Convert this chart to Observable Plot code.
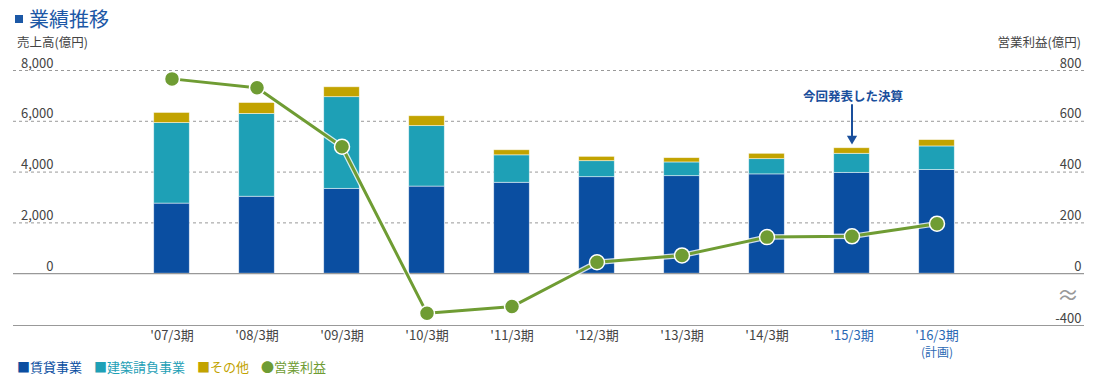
<!DOCTYPE html>
<html><head><meta charset="utf-8">
<script src="https://cdn.jsdelivr.net/npm/d3@7"></script>
<script src="https://cdn.jsdelivr.net/npm/@observablehq/plot@0.6"></script>
<style>
html,body{margin:0;padding:0;background:#fff;}
body{font-family:"Noto Sans CJK JP","Noto Sans",sans-serif;}
#wrap{position:relative;width:1110px;height:391px;overflow:hidden;}
#title{position:absolute;left:29px;top:6px;font-size:20px;line-height:26px;color:#1c58a6;}
#tsq{position:absolute;left:15px;top:15px;width:8px;height:8px;background:#1c58a6;}
.axt{position:absolute;top:35px;font-size:12.5px;line-height:14px;color:#444;}
#brk{position:absolute;left:1057px;top:280px;font-size:22px;line-height:26px;color:#999;}
#chart{position:absolute;left:0;top:40px;}
#legend{position:absolute;left:17px;top:359px;font-size:13px;line-height:16px;white-space:nowrap;}
#legend span.it{position:absolute;top:0;}
</style></head>
<body><div id="wrap">
<div id="tsq"></div><div id="title">業績推移</div>
<div class="axt" style="left:17px">売上高(億円)</div>
<div class="axt" style="right:29px">営業利益(億円)</div>
<div id="chart"></div>
<div id="brk">≈</div>
<div id="legend"></div>
</div>
<script>
// ---- data ----
const periods = ["'07/3期","'08/3期","'09/3期","'10/3期","'11/3期","'12/3期","'13/3期","'14/3期","'15/3期","'16/3期"];
const xLabels = ["'07/3期","'08/3期","'09/3期","'10/3期","'11/3期","'12/3期","'13/3期","'14/3期","'15/3期","'16/3期"];
const xSubLabels = ["","","","","","","","","","(計画)"];
const highlighted = ["'15/3期","'16/3期"];
const chintai  = [2760, 3030, 3340, 3430, 3580, 3800, 3840, 3910, 3970, 4080];
const kenchiku = [3170, 3260, 3610, 2380, 1080,  630,  540,  600,  750,  930];
const sonota   = [ 400,  430,  390,  390,  200,  170,  170,  210,  220,  250];
const profit   = [ 767,  732,  500, -306, -254,   45,   72,  144,  147,  197];
const seriesNames = ["賃貸事業","建築請負事業","その他"];
const seriesColors = ["#0a4ea1","#1ea0b6","#c2a300"];
const profitName = "営業利益";
const profitColor = "#6f9c33";
const salesTicks = [0, 2000, 4000, 6000, 8000];
const salesTickLabels = ["0","2,000","4,000","6,000","8,000"];
const profitTicks = [800, 600, 400, 200, 0, -400];
const profitTickLabels = ["800","600","400","200","0","-400"];
const annotationPeriod = "'15/3期";
const annotationText = "今回発表した決算";

// ---- derived ----
const BREAK_BOTTOM = -2040;         // sales-axis position of the broken -400 line
const profitPos = v => v >= 0 ? v * 10 : v / 400 * (-BREAK_BOTTOM);
const bars = [];
periods.forEach((p, i) => {
  [chintai, kenchiku, sonota].forEach((arr, k) => bars.push({period: p, series: seriesNames[k], value: arr[i]}));
});
const profitData = periods.map((p, i) => ({period: p, value: profit[i], pos: profitPos(profit[i])}));
const totals = periods.map((p, i) => chintai[i] + kenchiku[i] + sonota[i]);
const annTotal = totals[periods.indexOf(annotationPeriod)];
const ann = [{period: annotationPeriod, text: annotationText, tip: annTotal + 150, line: annTotal + 1716, label: annTotal + 1850}];
const subLabelData = periods.map((p, i) => ({period: p, text: xSubLabels[i]})).filter(d => d.text);

const grey = "#999";
const textGrey = "#444";
const blueText = "#2a68b4";
const font = '"Noto Sans CJK JP","Noto Sans",sans-serif';

const chart = Plot.plot({
  width: 1110, height: 320,
  marginLeft: 13, marginRight: 26, marginTop: 30, marginBottom: 35,
  style: {fontFamily: font, background: "transparent", overflow: "visible"},
  x: {type: "band", domain: periods, range: [126.6, 980.7], padding: 0, axis: null},
  y: {domain: [BREAK_BOTTOM, 8000], axis: null},
  color: {domain: seriesNames, range: seriesColors},
  marks: [
    Plot.ruleY(salesTicks.filter(d => d !== 0), {stroke: grey, strokeDasharray: "3,3", strokeWidth: 1}),
    Plot.barY(bars, {x: "period", y: "value", fill: "series", order: seriesNames, insetLeft: 24.7, insetRight: 24.7, stroke: "#fff", strokeWidth: 0.8, strokeOpacity: 0.6}),
    Plot.ruleY([0, BREAK_BOTTOM], {stroke: grey, strokeWidth: 1.2}),
    Plot.text(salesTicks, {y: d => d, text: (d, i) => salesTickLabels[i], frameAnchor: "left", dx: 40, textAnchor: "end", lineAnchor: "bottom", dy: -3, fontSize: 13, fill: textGrey}),
    Plot.text(profitTicks, {y: d => profitPos(d), text: (d, i) => profitTickLabels[i], frameAnchor: "right", dx: -3, textAnchor: "end", lineAnchor: "bottom", dy: -3, fontSize: 13, fill: textGrey}),
    Plot.text(periods, {x: d => d, text: (d, i) => xLabels[i], frameAnchor: "bottom", lineAnchor: "top", dy: 5, fontSize: 13, fill: d => highlighted.includes(d) ? blueText : textGrey}),
    Plot.text(subLabelData, {x: "period", text: "text", frameAnchor: "bottom", lineAnchor: "top", dy: 23, fontSize: 12, fill: blueText}),
    Plot.line(profitData, {x: "period", y: "pos", stroke: "#fff", strokeWidth: 5.5, strokeOpacity: 0.8}),
    Plot.line(profitData, {x: "period", y: "pos", stroke: profitColor, strokeWidth: 3}),
    Plot.dot(profitData, {x: "period", y: "pos", r: 7.5, fill: profitColor, stroke: "#fff", strokeWidth: 1.5}),
    Plot.text(ann, {x: "period", y: "label", text: "text", lineAnchor: "bottom", fontSize: 12.5, fontWeight: "bold", fill: "#1a4f9c", dx: 1}),
    Plot.ruleY(ann, {x: "period", y: "line", insetLeft: -8, insetRight: -9, stroke: "#1a4f9c", strokeWidth: 1.2}),
    Plot.ruleX(ann, {x: "period", y1: "line", y2: "tip", stroke: "#1a4f9c", strokeWidth: 2, insetBottom: 7}),
    Plot.dot(ann, {x: "period", y: "tip", symbol: "triangle", rotate: 180, r: 3.8, fill: "#1a4f9c", dy: -5.8})
  ]
});
document.getElementById("chart").appendChild(chart);

// legend
const legend = document.getElementById("legend");
const items = seriesNames.map((n, i) => ({mark: "■", name: n, color: seriesColors[i]})).concat([{mark: "●", name: profitName, color: profitColor}]);
const lefts = [0, 77, 180, 244];
items.forEach((it, i) => {
  const s = document.createElement("span");
  s.className = "it";
  s.style.left = lefts[i] + "px";
  s.style.color = it.color;
  s.textContent = it.mark + it.name;
  legend.appendChild(s);
});
</script>
</body></html>
